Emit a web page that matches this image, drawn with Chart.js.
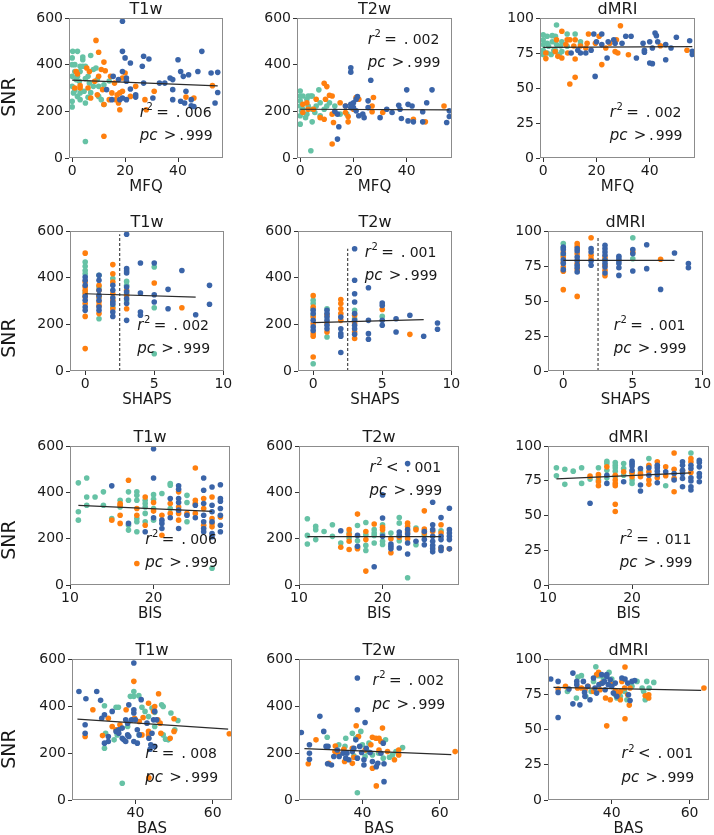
<!DOCTYPE html>
<html>
<head>
<meta charset="utf-8">
<script src="https://cdn.jsdelivr.net/npm/chart.js@4.4.1/dist/chart.umd.min.js"></script>
<style>
  body { margin: 0; background: #fff; width: 714px; height: 835px; position: relative; overflow: hidden; }
  canvas { position: absolute; left: 0; top: 0; }
</style>
</head>
<body>
<script>
// Tick labels
const snrTicks = [0, 200, 400, 600];
const dmriTicks = [0, 25, 50, 75, 100];
const mfqTicks = [0, 20, 40];
const shapsTicks = [0, 5, 10];
const bisTicks = [10, 20];
const basTicks = [40, 60];

// Row 1: MFQ
const t1wMfqGreen = [[0.2,457],[0,429],[2,457],[0,400],[1,371],[0,350],[0,307],[0.5,279],[0,243],[0,219],[3,393],[4,393],[5,393],[4,421],[4,433],[7,439],[9,386],[6,350],[6.5,321],[8,307],[2,264],[3,250],[5,236],[5,71],[3,279],[4.5,286],[1.5,336],[2.7,329],[8,379],[10,264],[11,250],[12,229],[12,314],[9.5,336],[10,307],[1,290],[2,350],[3,371],[1,400],[5,340],[7,280],[14,330],[6,260]];
const t1wMfqOrange = [[9,504],[10,453],[12,411],[12.5,374],[11,379],[10,350],[8.5,329],[6.5,371],[5.5,386],[1.5,371],[1,300],[3,300],[6,300],[7,257],[9.5,271],[11.5,293],[12,229],[12,93],[14.5,350],[16,321],[15,279],[17,271],[18,279],[18,207],[19,286],[17.5,236],[22,264],[24,307],[27.5,250],[28,207],[31,286],[43,261],[46,257],[53,310],[20,364],[19,343],[14,250],[16.5,250],[3,310],[2,360]];
const t1wMfqBlue = [[19,586],[19,457],[20,429],[22,407],[20.5,343],[19,371],[17.5,336],[20.5,329],[22,296],[24,271],[24,261],[20.5,250],[19,257],[18,250],[15,250],[13,293],[15.5,350],[27,436],[29,424],[27,321],[26.5,393],[30.5,257],[33,321],[35,321],[37,343],[38,336],[38,293],[38,250],[40,421],[41,371],[42,350],[41,243],[42.5,236],[43,286],[44,357],[47.5,371],[45,250],[45,224],[49,457],[52.5,364],[54,236],[55,367],[55,281],[46,221]];
const t1wMfqFit = [[0,334],[55,309]];

const t2wMfqGreen = [[0,287],[0,266],[1,266],[0,245],[0,223],[0.5,202],[0,181],[0,145],[2,173],[2.5,252],[3,266],[4,266],[4.5,266],[3,223],[4.5,209],[5.5,195],[4.5,155],[7,292],[7.5,237],[9,209],[11,237],[13,223],[15,188],[17.5,188],[4,31],[1,209],[2.5,188],[7.5,181],[6,223],[10,223]];
const t2wMfqOrange = [[9,320],[10,306],[11,269],[9.5,252],[6,252],[1,230],[1,195],[5,209],[7.5,173],[9,166],[12,266],[12,188],[12.5,152],[12,60],[15,237],[17,195],[18,155],[18,178],[22,252],[21,259],[27.5,259],[27,198],[27,223],[31,195],[42.5,166],[47,155],[54,223],[2.5,237],[3,209],[20,209],[17,223]];
const t2wMfqBlue = [[19,387],[19,368],[26.5,333],[19,230],[20,237],[21,252],[21.5,263],[20,216],[21,202],[19,216],[17,223],[14,188],[13,200],[14.5,134],[14,81],[22,181],[24,173],[25.5,245],[30,173],[32.5,209],[34.5,195],[37,226],[37.5,209],[38,169],[40,292],[40.5,230],[42,223],[40.5,159],[42.5,155],[46,198],[46,155],[47.5,237],[49.5,292],[55,152],[56,202],[56,178],[25.5,216],[23.5,188]];
const t2wMfqFit = [[0,209],[56,206]];

const dmriMfqGreen = [[0,88],[0,84.5],[0,81],[0,77],[0,74],[1.5,87],[2,79.8],[3.4,87.4],[4,77],[5,95],[4.6,87],[5,81],[6,74],[7,76],[9,88.6],[9,79.8],[12,88.6],[14,83],[14,81],[7,83],[3,74],[3.4,83],[1.5,75],[6.5,80],[1.5,82],[4.6,77]];
const dmriMfqOrange = [[7,90.5],[12,84.5],[5,84.5],[9,84.5],[10,84.5],[8.5,81],[11.5,80],[9.2,75],[4.5,76],[1,75],[1,71],[5.5,72.6],[7,71.4],[12,70.7],[14,80],[16,78.6],[17,88.6],[19.6,82],[21,87],[22,66.7],[10,52.9],[12,57.6],[23.5,78.6],[25,82],[27,76],[28,75],[29,94.5],[27.5,84.5],[32,73.8],[44,80.2],[54,77],[16.5,82]];
const dmriMfqBlue = [[19,88.6],[22,88.6],[20,83],[22,81],[19.5,58.3],[18,77],[16,75],[14,75],[10.5,75],[13,77],[24,71.4],[24.4,83],[26.5,84.5],[27,82],[29.6,82],[31,87],[33,87],[35,71.4],[37.5,82],[38,77],[38,75.5],[40,83],[40,67.9],[41,67.4],[41,78.6],[42,89.3],[42.5,87.4],[43,83],[46,81],[46,70.2],[48,78.6],[50,86.2],[55,83.8],[56,76.2],[56,74]];
const dmriMfqFit = [[0,79],[56,79.5]];

// Row 2: SHAPS
const t1wShapsGreen = [[0,467],[0,449],[0,431],[0,417],[0,339],[1,360],[1,410],[1,224],[1,317],[2,396],[2,274],[3,384],[3,331],[3,300],[3,367],[5,446],[5,271],[5,74]];
const t1wShapsOrange = [[0,505],[0,381],[0,346],[0,331],[0,317],[0,289],[0,234],[0,96],[0,360],[1,367],[1,346],[1,317],[1,296],[1,281],[1,246],[2,456],[2,417],[2,381],[2,331],[2,303],[2,267],[3,324],[3,267],[3,346],[5,377],[7,271]];
const t1wShapsBlue = [[0,403],[0,367],[0,303],[0,274],[0,260],[0,389],[0,320],[1,410],[1,389],[1,346],[1,324],[1,303],[1,260],[1,274],[2,367],[2,346],[2,314],[2,296],[2,253],[2,234],[2,286],[3,586],[3,439],[3,429],[3,420],[3,360],[3,339],[3,310],[3,289],[3,217],[4,463],[4,334],[4,253],[4,239],[5,463],[5,327],[5,296],[6,350],[6,267],[7,431],[8,241],[9,367],[9,286]];
const t1wShapsFit = [[0,331],[8,317]];

const t2wShapsGreen = [[0,303],[0,289],[0,267],[0,239],[0,31],[1,146],[1,267],[3,260],[3,224],[5,234]];
const t2wShapsOrange = [[0,323],[0,274],[0,231],[0,203],[0,160],[0,149],[0,60],[1,206],[1,167],[1,240],[2,306],[2,289],[2,267],[2,246],[2,217],[3,239],[3,206],[3,167],[3,139],[5,264],[7,157]];
const t2wShapsBlue = [[0,260],[0,246],[0,217],[0,189],[0,174],[1,260],[1,246],[1,231],[1,217],[1,196],[1,181],[2,231],[2,181],[2,160],[2,149],[2,79],[3,524],[3,389],[3,331],[3,296],[3,246],[3,217],[3,196],[3,181],[3,157],[4,357],[4,217],[4,160],[4,136],[5,291],[5,281],[5,217],[5,196],[6,224],[6,167],[7,239],[8,149],[9,206],[9,179]];
const t2wShapsFit = [[0,207],[8,220]];

const dmriShapsGreen = [[0,91],[0,82.6],[3,79.5],[5,95.2],[5,80.2],[0,88]];
const dmriShapsOrange = [[0,85],[0,81.4],[0,77.9],[0,74.3],[0,71.2],[0,58.1],[1,91],[1,89],[1,83.8],[1,77],[1,72.4],[1,53.3],[2,95.2],[2,82.6],[2,80.2],[3,81],[3,75.5],[3,71.9],[3,68.1],[5,85],[7,79.8]];
const dmriShapsBlue = [[0,88.6],[0,86.7],[0,83.8],[0,79.5],[0,76.7],[0,72.4],[1,87.4],[1,85.7],[1,81.4],[1,79],[1,75.5],[1,73.8],[1,70.7],[2,87.4],[2,85],[2,78.6],[2,75.5],[3,89.8],[3,87.4],[3,85],[3,82.6],[3,79],[3,76.7],[3,74.3],[3,70],[4,81.9],[4,80.2],[4,78.6],[4,76.7],[4,73.8],[4,68.3],[5,86.7],[5,83.8],[5,71.4],[6,90.2],[6,73.1],[7,58.3],[8,84.3],[9,76.7],[9,73.8]];
const dmriShapsFit = [[0,79],[8,79]];

// Row 3: BIS
const t1wBisGreen = [[11,441],[11,316],[11,280],[12,462],[12,380],[12,344],[13,380],[14,402],[14,344],[15,287],[16,366],[16,337],[17,402],[17,366],[17,258],[17,237],[18,402],[18,387],[18,366],[18,287],[18,273],[18,230],[19,366],[19,352],[19,337],[19,309],[19,273],[20,390],[20,370],[20,330],[20,280],[21,395],[22,438],[22,431],[22,330],[24,387],[24,356],[24,273],[27,72]];
const t1wBisOrange = [[15,280],[16,352],[16,344],[16,301],[16,266],[17,452],[18,330],[18,301],[18,93],[19,380],[19,258],[20,356],[20,319],[21,301],[21,215],[22,352],[22,309],[23,402],[23,337],[23,309],[23,280],[24,309],[25,505],[25,366],[25,352],[25,309],[26,373],[26,330],[26,258],[27,380],[27,287],[27,266],[27,251],[28,294]];
const t1wBisBlue = [[15,428],[17,266],[19,230],[20,588],[20,462],[20,290],[21,280],[21,266],[21,244],[22,373],[22,290],[23,428],[23,413],[23,373],[23,356],[23,323],[23,244],[24,301],[25,344],[25,290],[26,462],[26,409],[26,352],[26,301],[26,273],[26,244],[26,230],[27,423],[27,344],[27,316],[27,273],[27,222],[27,208],[28,433],[28,373],[28,362],[28,330],[28,301],[28,258],[28,230]];
const t1wBisFit = [[11,344],[27,318]];

const t2wBisGreen = [[11,286],[11,214],[11,177],[12,253],[12,239],[12,196],[13,231],[14,260],[14,210],[15,181],[16,203],[16,224],[17,257],[17,191],[17,163],[18,270],[18,217],[18,171],[18,149],[19,239],[19,224],[19,214],[19,181],[20,260],[20,220],[20,189],[20,175],[21,224],[22,291],[22,267],[22,191],[23,31],[24,246],[24,174],[25,214],[27,234]];
const t2wBisOrange = [[15,163],[16,239],[16,217],[16,189],[16,153],[17,306],[17,157],[18,231],[18,196],[18,60],[19,263],[20,249],[20,239],[21,139],[21,200],[22,206],[23,267],[23,253],[23,229],[23,200],[24,239],[25,320],[25,241],[25,224],[26,231],[27,260],[27,224],[27,157],[28,156]];
const t2wBisBlue = [[15,234],[17,214],[17,167],[19,79],[20,389],[20,289],[20,210],[21,177],[21,167],[21,156],[22,229],[22,214],[22,160],[23,524],[23,239],[23,220],[23,181],[23,134],[24,189],[25,231],[25,196],[25,174],[26,357],[26,260],[26,239],[26,210],[26,189],[26,171],[26,157],[26,143],[27,291],[27,210],[27,196],[27,163],[27,149],[28,331],[28,239],[28,224],[28,210],[28,196],[28,156]];
const t2wBisFit = [[11,209],[27,209]];

const dmriBisGreen = [[11,84.3],[11,78.6],[12,83.3],[12,72.4],[13,81.9],[14,84.3],[14,73.1],[15,76.2],[16,84.3],[16,75.5],[17,89],[17,87.4],[17,82.6],[17,77.1],[18,88.1],[18,86.2],[18,84.3],[18,81.9],[18,77.9],[19,87.4],[19,83.8],[19,79],[20,80.2],[20,75.5],[20,73.1],[22,91],[24,71.4],[27,95],[21,82]];
const dmriBisOrange = [[15,78.3],[16,79.5],[16,77.9],[16,74.3],[16,71.4],[17,85],[18,79],[18,75.5],[18,73.1],[18,71.4],[18,58.1],[18,52.9],[19,81.4],[20,77.9],[20,81],[21,80.2],[21,77.9],[22,86.2],[22,81.4],[22,75.5],[22,72.4],[23,88.6],[23,77.1],[24,85],[24,78.6],[25,95],[25,83.3],[25,76.7],[25,67.1],[26,82.1],[27,91],[27,81],[27,88.6]];
const dmriBisBlue = [[15,58.8],[17,79],[17,73.1],[19,74.3],[20,89],[20,87.4],[20,85.7],[20,82.6],[21,83.8],[21,71.9],[21,67.6],[22,84.3],[22,79],[23,86.2],[23,84.3],[23,81.9],[23,79.5],[23,73.6],[24,81.4],[25,80.2],[25,75.5],[26,88.6],[26,86.2],[26,82.6],[26,80.2],[26,76.7],[26,70.7],[27,86.2],[27,83.8],[27,77.1],[27,74.8],[27,70.7],[27,68.3],[28,89.8],[28,88.1],[28,85],[28,80.2],[28,77.9],[28,74.3]];
const dmriBisFit = [[11,76.3],[27,80.7]];

// Row 4: BAS
const t1wBasGreen = [[32,401],[35,395],[35.6,395],[32.3,284],[32,220],[34.5,256],[35.3,277],[39.6,462],[39.6,441],[38.7,441],[40.9,444],[41.7,395],[42.5,377],[43.4,355],[44.3,391],[45,373],[46.8,405],[47.2,398],[47.2,277],[48.5,256],[49.2,370],[50.2,299],[51,338],[36.6,71],[41,277],[38,313],[45,313],[47.8,259]];
const t1wBasOrange = [[27,270],[29,384],[31.5,274],[33,348],[34,313],[35,299],[36,320],[37.6,384],[39.6,505],[39.8,348],[41,334],[41.7,277],[42,351],[43.4,412],[43.4,292],[43.4,277],[44.7,377],[45,398],[46,452],[45.8,341],[46.4,327],[46.6,284],[49,263],[50,346],[50,292],[64.3,282],[43.5,95]];
const t1wBasBlue = [[25.4,462],[27.2,431],[30,462],[31,424],[27,320],[27,284],[31.3,348],[32,363],[34,377],[32,242],[33,249],[33,270],[35.7,299],[36.6,306],[37.5,341],[38,277],[38,327],[39,341],[39.6,583],[38.3,405],[39.6,370],[40,341],[40.5,299],[39.6,249],[40.5,242],[41,277],[41.5,427],[43,327],[43.5,263],[44,235],[44.7,341],[45,377],[45.5,341],[45,228],[35,292],[35.7,284],[36.6,263],[37,256],[37.5,249],[38.3,270],[43.8,216],[44.3,284],[39.6,384]];
const t1wBasFit = [[25,344],[64,302]];

const t2wBasGreen = [[30.9,267],[33.9,235],[35.7,263],[35.5,228],[37.4,284],[38.3,263],[38.9,270],[39.6,292],[38.7,31],[40,235],[41.3,206],[41.7,242],[42.6,192],[44.2,199],[45.4,178],[46,256],[47,182],[47.8,192],[48.7,206],[50.4,223],[37.8,188],[40.7,185]];
const t2wBasOrange = [[26,154],[28,256],[31.3,156],[33,230],[33.7,199],[35.2,216],[35.4,164],[37.4,220],[38.4,316],[37.8,182],[39,270],[40.7,213],[42.2,235],[42.6,267],[43.5,263],[44.3,263],[44.8,249],[45.2,306],[42.6,135],[43.6,60],[44.3,213],[46.5,206],[48.3,171],[49.4,213],[49.4,192],[64,206],[32.9,206],[37.4,156]];
const t2wBasBlue = [[24.2,287],[26.3,235],[26.3,199],[26.3,173],[29,356],[30,292],[30.6,228],[31.1,228],[31,154],[32,149],[33.5,213],[34,185],[35,199],[35.7,178],[36.5,171],[37.4,206],[37.8,220],[38.3,256],[38.7,519],[38.7,384],[38.7,178],[39.3,228],[39.8,202],[40.7,330],[40.4,171],[40.4,149],[41,220],[42,202],[42.6,164],[43.6,142],[44,156],[44.8,199],[45.4,242],[45.6,154],[45.6,78],[32.6,185],[36,199]];
const t2wBasFit = [[25,219],[63,193]];

const dmriBasGreen = [[28.6,77],[30.9,72.3],[31.3,87.2],[32.2,88.2],[33.3,73.5],[34.7,77],[35.3,84.1],[35.9,94.5],[36.6,88.2],[37.8,86.5],[39.3,90.5],[40,85.8],[40.9,74.6],[41.3,72.3],[42.2,73.5],[43.3,77],[43.9,71.1],[45.2,80.6],[46.5,84.1],[47.8,79.4],[48.6,71.1],[49,84.1],[49.6,79.4],[50.8,83.4],[48.2,77]];
const dmriBasOrange = [[26.2,78.7],[28.1,80.6],[31.2,79.4],[32.2,79.4],[33.1,78.2],[33.9,80.6],[35.3,77],[36.1,88.9],[36.6,90.5],[37,78.2],[37.4,82.9],[38.4,72.3],[38.7,52.6],[39.6,71.1],[40,81.8],[40.9,77.7],[41.6,74.6],[42.2,77],[42.6,84.1],[43.4,94.3],[43.3,79.4],[43.4,57.6],[44.1,74.6],[44.5,67.3],[44.7,79.4],[48.6,73.9],[49.5,72.3],[49.5,74.6],[63.7,79.4],[42.2,71.1]];
const dmriBasBlue = [[24.3,85.8],[26.2,84.1],[26.2,76.3],[26.2,58.5],[29,78.7],[30,90],[30,68.2],[31,84.1],[31,81.8],[31.8,67.5],[32.7,84.1],[33,76.3],[33.1,73.5],[33.8,80.6],[34.4,71.1],[35.3,86.5],[35.7,79.4],[36.1,75.8],[36.7,81.8],[37.4,88.9],[37.6,82.9],[38.1,84.1],[38.3,78.2],[38.7,88.9],[39.1,81.8],[39.6,85.3],[40,80.6],[40.4,75.8],[40.9,82.9],[41.3,73.5],[42.6,86.5],[43.4,85.8],[44.1,82.9],[44.3,74.6],[44.7,70.6],[45.2,84.1],[45.9,84.8],[38.7,87.7]];
const dmriBasFit = [[25,79.9],[63,77.7]];

const GREEN = '#66c2a5', ORANGE = '#ff7f0e', BLUE = '#3a64a8';
const FONT = '"DejaVu Sans", sans-serif';

// one entry per panel; area = chart area [left, top, right, bottom] in page pixels
const panels = [
  { area: [69, 18, 223, 158], title: 'T1w', xLabel: 'MFQ', xMin: -1.2, xMax: 57, xTicks: mfqTicks, yMax: 600, yTicks: snrTicks,
    pts: [t1wMfqGreen, t1wMfqOrange, t1wMfqBlue], fit: t1wMfqFit, op: '=', r2: '006', statX: 0.46, statTop: false, snrY: 97 },
  { area: [297, 18, 452, 158], title: 'T2w', xLabel: 'MFQ', xMin: -1.2, xMax: 57, xTicks: mfqTicks, yMax: 600, yTicks: snrTicks,
    pts: [t2wMfqGreen, t2wMfqOrange, t2wMfqBlue], fit: t2wMfqFit, op: '=', r2: '002', statX: 0.456, statTop: true },
  { area: [540, 18, 695, 158], title: 'dMRI', xLabel: 'MFQ', xMin: -1.2, xMax: 57, xTicks: mfqTicks, yMax: 100, yTicks: dmriTicks,
    pts: [dmriMfqGreen, dmriMfqOrange, dmriMfqBlue], fit: dmriMfqFit, op: '=', r2: '002', statX: 0.45, statTop: false },

  { area: [70, 231, 224, 371], title: 'T1w', xLabel: 'SHAPS', xMin: -1.1, xMax: 10.05, xTicks: shapsTicks, yMax: 600, yTicks: snrTicks,
    pts: [t1wShapsGreen, t1wShapsOrange, t1wShapsBlue], fit: t1wShapsFit, cut: 2.5, op: '=', r2: '002', statX: 0.437, statTop: false, snrY: 338 },
  { area: [298, 231, 452, 371], title: 'T2w', xLabel: 'SHAPS', xMin: -1.1, xMax: 10.05, xTicks: shapsTicks, yMax: 600, yTicks: snrTicks,
    pts: [t2wShapsGreen, t2wShapsOrange, t2wShapsBlue], fit: t2wShapsFit, cut: 2.5, op: '=', r2: '001', statX: 0.433, statTop: true },
  { area: [548, 231, 703, 371], title: 'dMRI', xLabel: 'SHAPS', xMin: -1.1, xMax: 10.05, xTicks: shapsTicks, yMax: 100, yTicks: dmriTicks,
    pts: [dmriShapsGreen, dmriShapsOrange, dmriShapsBlue], fit: dmriShapsFit, cut: 2.5, op: '=', r2: '001', statX: 0.424, statTop: false },

  { area: [70, 446, 230, 585], title: 'T1w', xLabel: 'BIS', xMin: 10, xMax: 29.15, xTicks: bisTicks, yMax: 600, yTicks: snrTicks,
    pts: [t1wBisGreen, t1wBisOrange, t1wBisBlue], fit: t1wBisFit, op: '=', r2: '006', statX: 0.47, statTop: false, snrY: 540 },
  { area: [299, 446, 459, 585], title: 'T2w', xLabel: 'BIS', xMin: 10, xMax: 29.15, xTicks: bisTicks, yMax: 600, yTicks: snrTicks,
    pts: [t2wBisGreen, t2wBisOrange, t2wBisBlue], fit: t2wBisFit, op: '<', r2: '001', statX: 0.44, statTop: true },
  { area: [548, 446, 709, 585], title: 'dMRI', xLabel: 'BIS', xMin: 10, xMax: 29.15, xTicks: bisTicks, yMax: 100, yTicks: dmriTicks,
    pts: [dmriBisGreen, dmriBisOrange, dmriBisBlue], fit: dmriBisFit, op: '=', r2: '011', statX: 0.445, statTop: false },

  { area: [72, 659, 232, 800], title: 'T1w', xLabel: 'BAS', xMin: 23.6, xMax: 65, xTicks: basTicks, yMax: 600, yTicks: snrTicks,
    pts: [t1wBasGreen, t1wBasOrange, t1wBasBlue], fit: t1wBasFit, op: '=', r2: '008', statX: 0.458, statTop: false, snrY: 749 },
  { area: [299, 659, 459, 800], title: 'T2w', xLabel: 'BAS', xMin: 23.6, xMax: 65, xTicks: basTicks, yMax: 600, yTicks: snrTicks,
    pts: [t2wBasGreen, t2wBasOrange, t2wBasBlue], fit: t2wBasFit, op: '=', r2: '002', statX: 0.459, statTop: true },
  { area: [548, 659, 709, 800], title: 'dMRI', xLabel: 'BAS', xMin: 23.6, xMax: 65, xTicks: basTicks, yMax: 100, yTicks: dmriTicks,
    pts: [dmriBasGreen, dmriBasOrange, dmriBasBlue], fit: dmriBasFit, op: '<', r2: '001', statX: 0.456, statTop: false }
];

const toXY = arr => arr.map(p => ({ x: p[0], y: p[1] }));

// draws "r² = . 006" / "pc > . 999" with mathtext-like spacing
function drawStat(ctx, x, yMid, isR, op, digits) {
  const F = 15;
  const base = yMid + 5;
  ctx.textAlign = 'left';
  ctx.textBaseline = 'alphabetic';
  ctx.font = 'italic ' + F + 'px ' + FONT;
  ctx.fillText(isR ? 'r' : 'pc', x, base);
  if (isR) {
    ctx.font = '10px ' + FONT;
    ctx.fillText('2', x + 0.45 * F, base - 0.45 * F);
  }
  ctx.font = F + 'px ' + FONT;
  ctx.fillText(op, x + (isR ? 1.1 : 1.6) * F, base);
  ctx.fillText('.', x + (isR ? 2.4 : 2.62) * F, base);
  ctx.font = '14px ' + FONT;
  ctx.fillText(digits, x + (isR ? 3.0 : 3.07) * F, base);
}

const decorPlugin = {
  id: 'decor',
  afterDraw(chart, args, opts) {
    const ctx = chart.ctx, a = chart.chartArea, p = opts.panel;
    ctx.save();
    ctx.strokeStyle = '#8c8c8c';
    ctx.lineWidth = 1;
    ctx.strokeRect(a.left + 0.5, a.top + 0.5, a.right - a.left - 1, a.bottom - a.top - 1);

    ctx.fillStyle = '#1a1a1a';
    ctx.textAlign = 'center';
    ctx.textBaseline = 'alphabetic';
    ctx.font = '16px ' + FONT;
    ctx.fillText(p.title, (a.left + a.right) / 2, a.top - 4);
    ctx.font = '15px ' + FONT;
    ctx.fillText(p.xLabel, (a.left + a.right) / 2, a.bottom + 33);

    if (p.snrY) {
      ctx.save();
      ctx.translate(15, p.snrY);
      ctx.rotate(-Math.PI / 2);
      ctx.font = '19px ' + FONT;
      ctx.fillText('SNR', 0, 0);
      ctx.restore();
    }

    const h = a.bottom - a.top;
    const sx = a.left + p.statX * (a.right - a.left);
    const f1 = p.statTop ? 0.148 : 0.67, f2 = p.statTop ? 0.316 : 0.835;
    drawStat(ctx, sx, a.top + f1 * h, true, p.op, p.r2);
    drawStat(ctx, sx, a.top + f2 * h, false, '>', '999');
    ctx.restore();
  }
};

const YW = 40, XH = 20;

panels.forEach(p => {
  const canvas = document.createElement('canvas');
  canvas.width = 714;
  canvas.height = 835;
  document.body.appendChild(canvas);

  const [l, t, r, b] = p.area;
  const datasets = [
    { data: toXY(p.fit), showLine: true, borderColor: '#2b2b2b', borderWidth: 1.2, pointRadius: 0 }
  ];
  if (p.cut !== undefined) {
    const yTop = Math.max(...p.pts.flat().map(q => q[1]));
    datasets.push({ data: [{ x: p.cut, y: 0 }, { x: p.cut, y: yTop }], showLine: true,
      borderColor: '#222', borderWidth: 1, borderDash: [3, 2], pointRadius: 0 });
  }
  [BLUE, ORANGE, GREEN].forEach((c, i) => {
    datasets.push({ data: toXY(p.pts[2 - i]), backgroundColor: c, borderWidth: 0, pointRadius: 2.8 });
  });

  const tickFont = { family: 'DejaVu Sans', size: 14 };
  new Chart(canvas, {
    type: 'scatter',
    data: { datasets: datasets },
    options: {
      responsive: false,
      animation: false,
      events: [],
      layout: { autoPadding: false, padding: { left: l - YW, top: t, right: 714 - r, bottom: 835 - b - XH } },
      plugins: { legend: { display: false }, tooltip: { enabled: false }, decor: { panel: p } },
      scales: {
        x: {
          type: 'linear', min: p.xMin, max: p.xMax,
          afterBuildTicks: s => { s.ticks = p.xTicks.map(v => ({ value: v })); },
          afterFit: s => { s.height = XH; },
          ticks: { font: tickFont, color: '#1a1a1a', padding: 1, maxRotation: 0 },
          grid: { drawOnChartArea: false, drawTicks: true, tickLength: 4, color: '#333' },
          border: { display: false }
        },
        y: {
          type: 'linear', min: 0, max: p.yMax,
          afterBuildTicks: s => { s.ticks = p.yTicks.map(v => ({ value: v })); },
          afterFit: s => { s.width = YW; },
          ticks: { font: tickFont, color: '#1a1a1a', padding: 2 },
          grid: { drawOnChartArea: false, drawTicks: true, tickLength: 4, color: '#333' },
          border: { display: false }
        }
      }
    },
    plugins: [decorPlugin]
  });
});
</script>
</body>
</html>
